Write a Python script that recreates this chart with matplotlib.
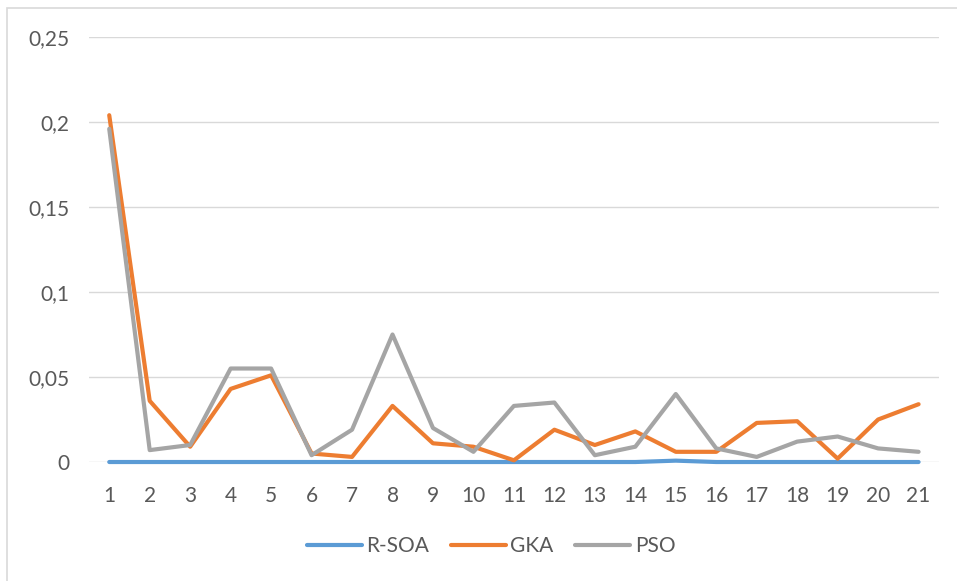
import matplotlib.pyplot as plt
from matplotlib.patches import Rectangle
from matplotlib.ticker import FuncFormatter

plt.rcParams['font.family'] = ['Lato', 'DejaVu Sans']

runs = list(range(1, 22))
r_soa = [0, 0, 0, 0, 0, 0, 0, 0, 0, 0, 0, 0, 0, 0, 0.0008, 0, 0, 0, 0, 0, 0]
gka = [0.204, 0.036, 0.009, 0.043, 0.051, 0.005, 0.003, 0.033, 0.011, 0.009, 0.001,
       0.019, 0.010, 0.018, 0.006, 0.006, 0.023, 0.024, 0.002, 0.025, 0.034]
pso = [0.196, 0.007, 0.010, 0.055, 0.055, 0.004, 0.019, 0.075, 0.020, 0.006, 0.033,
       0.035, 0.004, 0.009, 0.040, 0.008, 0.003, 0.012, 0.015, 0.008, 0.006]
yticks = [0, 0.05, 0.1, 0.15, 0.2, 0.25]

text_col = '#595959'
grid_col = '#d9d9d9'

fig = plt.figure(figsize=(9.57, 5.81), dpi=100)
ax = fig.add_axes([0.093, 0.2048, 0.888, 0.7315])

# chart frame (only left and top edges fall inside the image)
fig.patches.append(Rectangle((0.0073, -0.05), 1.1, 1.036, transform=fig.transFigure,
                             fill=False, edgecolor=grid_col, lw=1.2))

# lines sit on y=0, so don't clip them at the axes edge
ax.plot(runs, r_soa, color='#5b9bd5', lw=3, label='R-SOA', solid_capstyle='round',
        zorder=3, clip_on=False)
ax.plot(runs, gka, color='#ed7d31', lw=3, label='GKA', solid_capstyle='round',
        zorder=3, clip_on=False)
ax.plot(runs, pso, color='#a5a5a5', lw=3, label='PSO', solid_capstyle='round',
        zorder=3, clip_on=False)

ax.set_xlim(0.5, 21.5)
ax.set_ylim(0, 0.25)
ax.set_xticks(runs)
ax.set_yticks(yticks)
ax.yaxis.set_major_formatter(FuncFormatter(lambda v, _: ('%g' % round(v, 2)).replace('.', ',')))
ax.grid(axis='y', color=grid_col, lw=1)
ax.set_axisbelow(True)
for s in ax.spines.values():
    s.set_visible(False)
ax.tick_params(length=0, labelsize=15, labelcolor=text_col)
ax.tick_params(axis='y', pad=14)
ax.tick_params(axis='x', pad=17)

ax.legend(loc='center', bbox_to_anchor=(0.473, -0.198), ncol=3, frameon=False,
          fontsize=15, labelcolor=text_col, handlelength=2.65, handletextpad=0.2,
          columnspacing=1.05, borderpad=0)

fig.savefig('out.png', dpi=100)
